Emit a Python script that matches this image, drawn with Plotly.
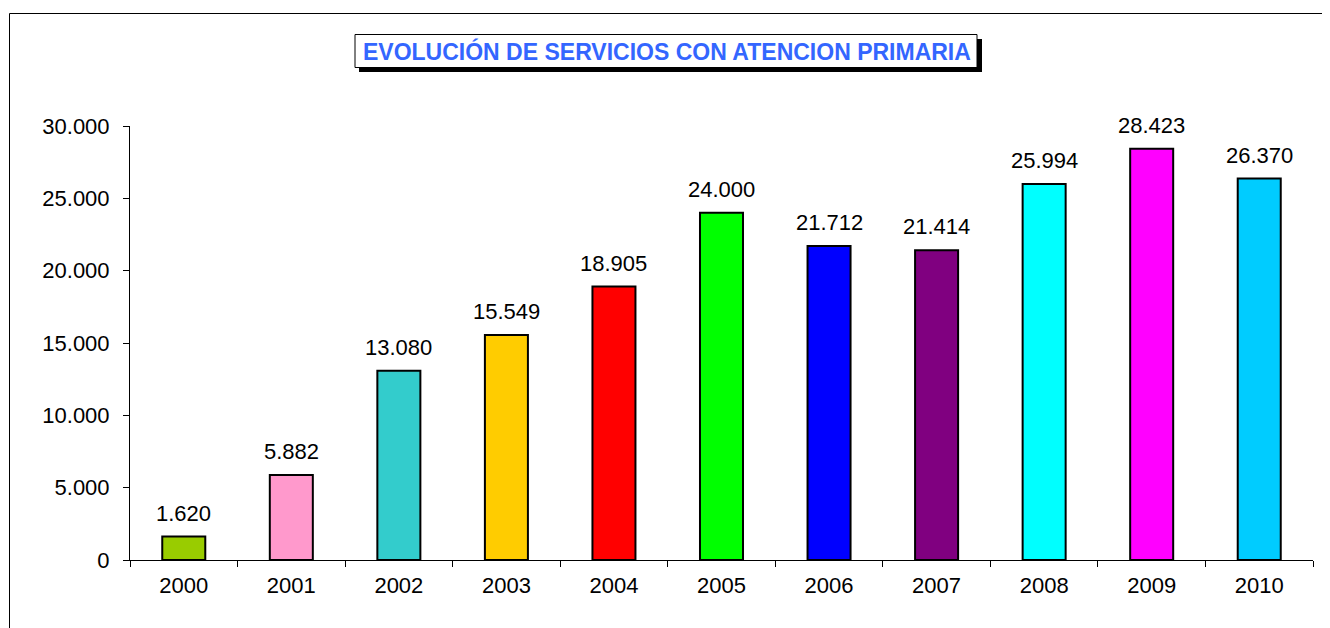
"""Bar chart: evolución de servicios con atención primaria, 2000-2010."""

import plotly.graph_objects as go

years = ["2000", "2001", "2002", "2003", "2004", "2005",
         "2006", "2007", "2008", "2009", "2010"]
services = [1620, 5882, 13080, 15549, 18905, 24000,
            21712, 21414, 25994, 28423, 26370]
bar_colors = ["#99CC00", "#FF99CC", "#33CCCC", "#FFCC00", "#FF0000", "#00FF00",
              "#0000FF", "#800080", "#00FFFF", "#FF00FF", "#00CCFF"]

title_text = "EVOLUCIÓN DE SERVICIOS CON ATENCION PRIMARIA"

FONT = "Arial, Liberation Sans, sans-serif"
OFF = 8  # the page body has an 8px margin
W, H = 1330 - OFF, 628 - OFF
L, R, T, B = 130 - OFF, 17, 126 - OFF, 68


def px_x(x):
    # screen pixel -> paper coordinate (x)
    return (x - OFF - L) / (W - L - R)


def px_y(y):
    # screen pixel -> paper coordinate (y)
    return (H - B - (y - OFF)) / (H - T - B)


fig = go.Figure()

fig.add_trace(go.Bar(
    x=years, y=services,
    marker={"color": bar_colors, "line": {"color": "black", "width": 2}},
    width=0.4,
    showlegend=False,
    hoverinfo="x+y",
))

# value labels above the bars (category index as x)
for i, v in enumerate(services):
    fig.add_annotation(
        x=i, y=v, xref="x", yref="y", text=f"{v:,}".replace(",", "."),
        showarrow=False, xanchor="center", yanchor="bottom", yshift=9,
        font={"size": 22, "color": "black", "family": FONT},
    )

# outer chart border (runs off the right/bottom of the picture)
fig.add_shape(type="rect", xref="paper", yref="paper",
              x0=px_x(9.5), x1=px_x(1345), y0=px_y(13.5), y1=px_y(650),
              line={"color": "black", "width": 1})

# title box with drop shadow
fig.add_shape(type="rect", xref="paper", yref="paper",
              x0=px_x(359), x1=px_x(982), y0=px_y(39), y1=px_y(72),
              fillcolor="black", line={"width": 0})
fig.add_shape(type="rect", xref="paper", yref="paper",
              x0=px_x(355), x1=px_x(977), y0=px_y(34.5), y1=px_y(67.5),
              fillcolor="white", line={"color": "black", "width": 1})
fig.add_annotation(text=f"<b>{title_text}</b>", xref="paper", yref="paper",
                   x=px_x(667), y=px_y(51), showarrow=False,
                   xanchor="center", yanchor="middle",
                   font={"size": 23, "color": "#3366FF", "family": FONT})

fig.update_layout(
    width=W, height=H,
    margin={"l": L, "r": R, "t": T, "b": B},
    paper_bgcolor="white", plot_bgcolor="white",
    separators=",.",
    font={"family": FONT, "size": 22, "color": "black"},
    bargap=0.6,
)
fig.update_xaxes(
    type="category", range=[-0.5, 10.5],
    showline=True, linecolor="black", linewidth=1,
    ticks="outside", tickson="boundaries", ticklen=6, tickcolor="black",
    showgrid=False, tickfont={"size": 22}, ticklabelstandoff=6,
)
fig.update_yaxes(
    range=[0, 30000], dtick=5000, tickformat=",d",
    showline=True, linecolor="black", linewidth=1,
    ticks="outside", ticklen=6, tickcolor="black",
    showgrid=False, zeroline=False, tickfont={"size": 22},
    ticklabelstandoff=9,
)

fig.write_html("out.html")
